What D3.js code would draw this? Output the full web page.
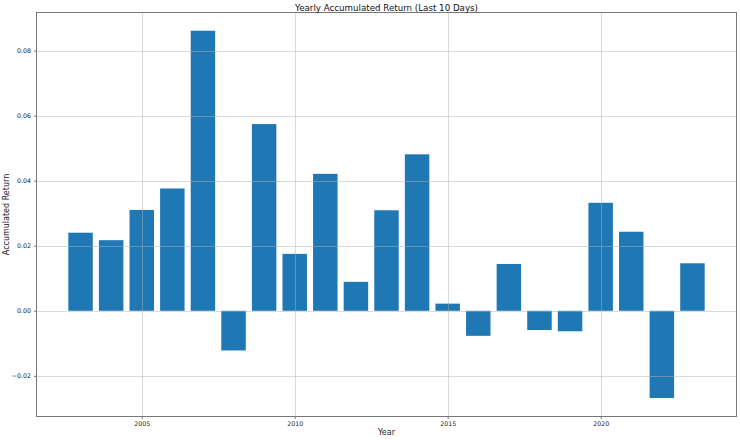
<!DOCTYPE html>
<html>
<head>
<meta charset="utf-8">
<script src="https://cdn.jsdelivr.net/npm/d3@7"></script>
<style>
  html, body { margin: 0; padding: 0; background: #fff; }
  svg { display: block; font-family: "DejaVu Sans", sans-serif; }
</style>
</head>
<body>
<svg id="chart" width="740" height="440"></svg>
<script>
const years = [2003, 2004, 2005, 2006, 2007, 2008, 2009, 2010, 2011, 2012, 2013,
               2014, 2015, 2016, 2017, 2018, 2019, 2020, 2021, 2022, 2023];
const returns = [0.0240, 0.0217, 0.0310, 0.0376, 0.0861, -0.0122, 0.0574, 0.0175,
                 0.0421, 0.0089, 0.0309, 0.0481, 0.0022, -0.0077, 0.0144, -0.0059,
                 -0.0063, 0.0332, 0.0243, -0.0268, 0.0146];
const xTicks = [2005, 2010, 2015, 2020];
const yTicks = [-0.02, 0.00, 0.02, 0.04, 0.06, 0.08];
const title = "Yearly Accumulated Return (Last 10 Days)";
const xLabel = "Year";
const yLabel = "Accumulated Return";

const svg = d3.select("#chart");
const m = { left: 36.5, top: 12.5, right: 736.5, bottom: 416.5 };
const barW = 0.8;

const x = d3.scaleLinear().domain([2001.56, 2024.44]).range([m.left, m.right]);
const y = d3.scaleLinear().domain([-0.0325, 0.0917]).range([m.bottom, m.top]);

const fmt = v => d3.format(".2f")(v).replace("-", "\u2212");

// bars
svg.append("g").selectAll("rect").data(years).join("rect")
  .attr("x", (d) => x(d - barW / 2))
  .attr("width", (d) => x(d + barW / 2) - x(d - barW / 2))
  .attr("y", (d, i) => y(Math.max(0, returns[i])))
  .attr("height", (d, i) => Math.abs(y(returns[i]) - y(0)))
  .attr("fill", "#1f77b4");

// grid (drawn over bars, like matplotlib default)
const grid = svg.append("g").attr("stroke", "#b0b0b0").attr("stroke-opacity", 0.6).attr("stroke-width", 0.8);
grid.selectAll("line.gx").data(xTicks).join("line")
  .attr("x1", d => Math.round(x(d)) + 0.5).attr("x2", d => Math.round(x(d)) + 0.5)
  .attr("y1", m.top).attr("y2", m.bottom);
grid.selectAll("line.gy").data(yTicks).join("line")
  .attr("y1", d => Math.round(y(d)) + 0.5).attr("y2", d => Math.round(y(d)) + 0.5)
  .attr("x1", m.left).attr("x2", m.right);

// axes
const xAxis = d3.axisBottom(x).tickValues(xTicks).tickFormat(d3.format("d")).tickSize(2.5).tickPadding(3);
const yAxis = d3.axisLeft(y).tickValues(yTicks).tickFormat(fmt).tickSize(2.5).tickPadding(3);

const gx = svg.append("g").attr("transform", `translate(0,${m.bottom})`).call(xAxis);
const gy = svg.append("g").attr("transform", `translate(${m.left},0)`).call(yAxis);
[gx, gy].forEach(g => {
  g.select(".domain").remove();
  g.selectAll(".tick line").attr("stroke", "#555").attr("stroke-width", 0.8);
  g.selectAll(".tick text").attr("fill", "#222").style("font-size", "6.3px")
    .style("font-family", "'DejaVu Sans', sans-serif");
});

// frame
svg.append("rect")
  .attr("x", m.left).attr("y", m.top)
  .attr("width", m.right - m.left).attr("height", m.bottom - m.top)
  .attr("fill", "none").attr("stroke", "#777").attr("stroke-width", 1);

// texts
svg.append("text").attr("x", (m.left + m.right) / 2).attr("y", 10.5)
  .attr("text-anchor", "middle").style("font-size", "8.7px").attr("fill", "#111").text(title);
svg.append("text").attr("x", (m.left + m.right) / 2).attr("y", 435)
  .attr("text-anchor", "middle").style("font-size", "8px").attr("fill", "#222").text(xLabel);
svg.append("text").attr("transform", `translate(9,${(m.top + m.bottom) / 2}) rotate(-90)`)
  .attr("text-anchor", "middle").style("font-size", "8px").attr("fill", "#222").text(yLabel);
</script>
</body>
</html>
